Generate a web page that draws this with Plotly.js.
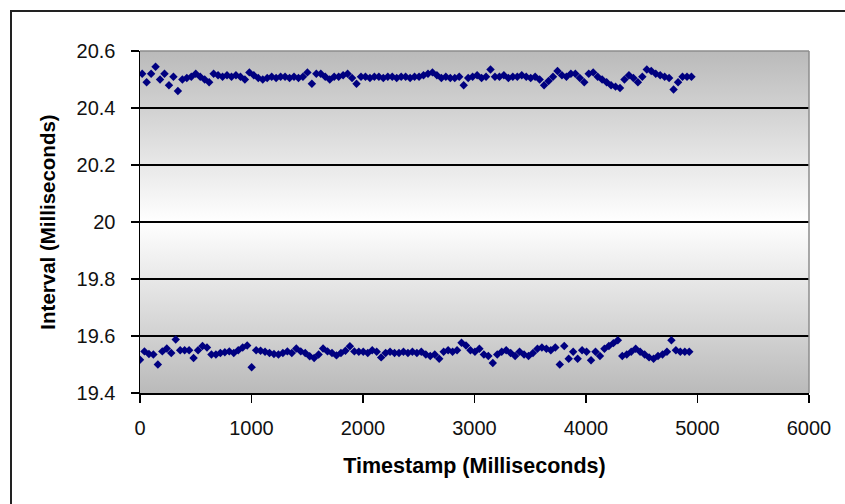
<!DOCTYPE html>
<html>
<head>
<meta charset="utf-8">
<script src="https://cdn.plot.ly/plotly-3.0.1.min.js"></script>
<style>
  html, body { margin: 0; padding: 0; background: #ffffff; }
  #wrap { position: relative; width: 845px; height: 504px; overflow: hidden; }
  #chart { position: absolute; left: 0; top: 0; width: 845px; height: 504px; }
  #frame { position: absolute; left: 10px; top: 10px; width: 900px; height: 600px;
           border-left: 2px solid #222; border-top: 2px solid #222; pointer-events: none; }
</style>
</head>
<body>
<div id="wrap">
  <div id="chart"></div>
  <div id="frame"></div>
</div>
<script>
// Timer intervals (ms), recorded alternately: a short tick followed by a long tick.
const shortIntervals = [
  19.517,19.546,19.537,19.535,19.50,19.546,19.556,19.54,19.588,19.55,
  19.55,19.55,19.523,19.55,19.565,19.56,19.535,19.535,19.54,19.543,
  19.546,19.54,19.55,19.56,19.567,19.49,19.55,19.548,19.545,19.54,
  19.537,19.535,19.54,19.546,19.54,19.556,19.546,19.54,19.529,19.523,
  19.535,19.556,19.546,19.54,19.532,19.54,19.548,19.564,19.546,19.545,
  19.545,19.54,19.55,19.545,19.525,19.54,19.545,19.54,19.54,19.545,
  19.54,19.545,19.54,19.545,19.535,19.53,19.535,19.52,19.545,19.55,
  19.545,19.55,19.576,19.567,19.55,19.545,19.555,19.535,19.53,19.505,
  19.535,19.545,19.55,19.54,19.53,19.545,19.535,19.53,19.54,19.555,
  19.56,19.555,19.55,19.56,19.50,19.565,19.52,19.545,19.52,19.55,
  19.545,19.515,19.545,19.53,19.555,19.565,19.575,19.585,19.53,19.535,
  19.545,19.555,19.545,19.535,19.525,19.52,19.53,19.535,19.545,19.585,
  19.55,19.545,19.545,19.545
];
const longIntervals = [
  20.52,20.49,20.52,20.545,20.50,20.52,20.48,20.51,20.46,20.50,
  20.505,20.51,20.52,20.51,20.50,20.49,20.52,20.515,20.51,20.515,
  20.51,20.515,20.51,20.50,20.525,20.515,20.505,20.50,20.505,20.51,
  20.505,20.51,20.51,20.505,20.51,20.505,20.51,20.525,20.485,20.52,
  20.52,20.51,20.50,20.51,20.51,20.515,20.52,20.505,20.485,20.51,
  20.51,20.505,20.51,20.51,20.505,20.51,20.51,20.505,20.51,20.51,
  20.505,20.51,20.51,20.515,20.52,20.525,20.515,20.505,20.51,20.505,
  20.505,20.51,20.48,20.505,20.51,20.515,20.505,20.51,20.535,20.51,
  20.51,20.515,20.505,20.51,20.51,20.515,20.51,20.505,20.51,20.50,
  20.48,20.495,20.51,20.53,20.515,20.51,20.52,20.52,20.505,20.49,
  20.52,20.525,20.51,20.50,20.49,20.48,20.475,20.47,20.50,20.515,
  20.505,20.49,20.51,20.535,20.53,20.52,20.515,20.51,20.505,20.465,
  20.49,20.51,20.51,20.51
];

// Axis ticks
const xTickVals = [0, 1000, 2000, 3000, 4000, 5000, 6000];
const xTickText = ['0', '1000', '2000', '3000', '4000', '5000', '6000'];
const yTickVals = [19.4, 19.6, 19.8, 20.0, 20.2, 20.4, 20.6];
const yTickText = ['19.4', '19.6', '19.8', '20', '20.2', '20.4', '20.6'];

// Each point is plotted at the running timestamp where its interval begins.
const timestamps = [];
const intervals = [];
let clock = 0;
for (let i = 0; i < shortIntervals.length; i++) {
  timestamps.push(clock); intervals.push(shortIntervals[i]); clock += shortIntervals[i];
  timestamps.push(clock); intervals.push(longIntervals[i]); clock += longIntervals[i];
}

const FONT = '"Liberation Sans", Arial, Helvetica, sans-serif';

// Vertical grey-white-grey fill for the plot area
const bgSvg = '<svg xmlns="http://www.w3.org/2000/svg" width="100" height="100" preserveAspectRatio="none">' +
  '<defs><linearGradient id="g" x1="0" y1="0" x2="0" y2="1">' +
  '<stop offset="0" stop-color="#bababa"/>' +
  '<stop offset="0.5" stop-color="#ffffff"/>' +
  '<stop offset="1" stop-color="#bababa"/>' +
  '</linearGradient></defs><rect width="100" height="100" fill="url(#g)"/></svg>';

const trace = {
  type: 'scatter',
  mode: 'markers',
  x: timestamps,
  y: intervals,
  marker: { symbol: 'diamond', size: 6.5, color: '#000080', line: { width: 0 } },
  hoverinfo: 'x+y'
};

const layout = {
  width: 845,
  height: 504,
  margin: { l: 140, r: 36, t: 51, b: 111 },
  paper_bgcolor: 'rgba(0,0,0,0)',
  plot_bgcolor: 'rgba(0,0,0,0)',
  showlegend: false,
  font: { family: FONT, color: '#000000' },
  xaxis: {
    range: [0, 6000],
    tickmode: 'array', tickvals: xTickVals, ticktext: xTickText,
    ticks: 'outside', ticklen: 8, tickwidth: 1.5, tickcolor: '#000',
    ticklabelstandoff: 8,
    showline: true, linecolor: '#000', linewidth: 1.5,
    showgrid: false, zeroline: false,
    tickfont: { family: FONT, size: 20, color: '#111' },
    automargin: false,
    title: { text: 'Timestamp (Milliseconds)', standoff: 20,
             font: { family: FONT, size: 21.5, weight: 700, color: '#000' } }
  },
  yaxis: {
    range: [19.4, 20.6],
    tickmode: 'array', tickvals: yTickVals, ticktext: yTickText,
    ticks: 'outside', ticklen: 8, tickwidth: 1.5, tickcolor: '#000',
    ticklabelstandoff: 11,
    showline: true, linecolor: '#000', linewidth: 1.5,
    showgrid: true, gridcolor: '#000', gridwidth: 1.5,
    zeroline: false,
    tickfont: { family: FONT, size: 20, color: '#111' },
    automargin: false,
    title: { text: 'Interval (Milliseconds)', standoff: 15,
             font: { family: FONT, size: 20.5, weight: 700, color: '#000' } }
  },
  images: [{
    source: 'data:image/svg+xml;charset=utf-8,' + encodeURIComponent(bgSvg),
    xref: 'paper', yref: 'paper', x: 0, y: 1, sizex: 1, sizey: 1,
    sizing: 'stretch', layer: 'below', xanchor: 'left', yanchor: 'top'
  }],
  shapes: [
    { type: 'line', xref: 'paper', yref: 'paper', x0: 0, x1: 1, y0: 1, y1: 1,
      line: { color: '#8c8c8c', width: 1.5 }, layer: 'above' },
    { type: 'line', xref: 'paper', yref: 'paper', x0: 1, x1: 1, y0: 0, y1: 1,
      line: { color: '#8c8c8c', width: 1.5 }, layer: 'above' }
  ]
};

Plotly.newPlot('chart', [trace], layout, { displayModeBar: false, staticPlot: true });
</script>
</body>
</html>
